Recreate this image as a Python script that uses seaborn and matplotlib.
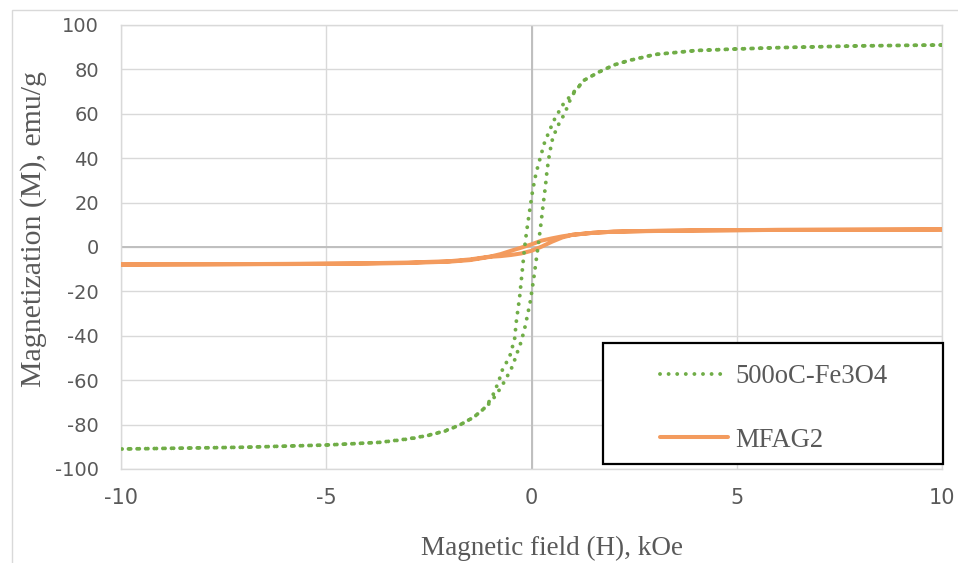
import matplotlib
matplotlib.use("Agg")
import matplotlib.pyplot as plt
from matplotlib.patches import Rectangle
import seaborn as sns
import pandas as pd

# ---- measured hysteresis loops (H in kOe, M in emu/g) ----
# 500oC-Fe3O4: descending branch (+10 -> -10 kOe)
fe3o4_desc_h = [10.0, 8.0, 6.0, 5.0, 4.0, 3.0, 2.57, 2.39, 2.01, 1.64, 1.29, 1.03,
                0.76, 0.56, 0.48, 0.32, 0.21, 0.11, 0.03, -0.03, -0.12, -0.17,
                -0.23, -0.29, -0.37, -0.41, -0.51, -0.60, -0.70, -0.76, -0.90,
                -1.10, -1.40, -1.75, -2.12, -2.51, -2.92, -3.31, -3.70, -5.0,
                -7.0, -10.0]
fe3o4_desc_m = [91.0, 90.6, 89.8, 89.2, 88.5, 86.7, 84.8, 84.1, 82.0, 78.8, 75.2, 69.8,
                64.0, 57.5, 54.2, 47.2, 40.0, 33.2, 25.7, 18.2, 6.9, -0.6,
                -11.6, -22.7, -33.6, -41.1, -48.2, -51.7, -54.8, -58.4, -65.3,
                -71.8, -76.6, -80.2, -82.9, -84.8, -86.3, -87.2, -88.0, -89.2,
                -90.2, -91.0]
# 500oC-Fe3O4: ascending branch (-10 -> +10 kOe)
fe3o4_asc_h = [-10.0, -7.0, -5.0, -3.7, -3.0, -2.5, -2.1, -1.75, -1.4, -1.10, -0.96,
               -0.73, -0.54, -0.45, -0.39, -0.25, -0.15, -0.03, 0.06, 0.17, 0.22,
               0.29, 0.34, 0.38, 0.44, 0.52, 0.68, 0.79, 0.87, 0.94, 1.05, 1.29,
               1.64, 2.01, 2.39, 3.0, 4.0, 5.0, 6.0, 8.0, 10.0]
fe3o4_asc_m = [-91.0, -90.2, -89.2, -88.0, -86.4, -84.8, -82.9, -80.2, -76.6, -71.9, -69.1,
               -62.9, -56.5, -53.2, -49.7, -42.6, -35.4, -24.6, -13.4, 1.7, 8.9,
               20.0, 27.5, 34.7, 42.2, 49.4, 56.0, 59.5, 62.9, 66.2, 70.0, 75.2,
               78.8, 82.0, 84.1, 86.7, 88.5, 89.2, 89.8, 90.6, 91.0]

# MFAG2: descending branch (+10 -> -10 kOe)
mfag2_desc_h = [10.0, 8.0, 6.0, 4.0, 3.0, 2.0, 1.5, 1.0, 0.75, 0.5, 0.25, 0.0,
                -0.25, -0.5, -0.75, -1.0, -1.5, -2.0, -3.0, -4.0, -6.0, -8.0, -10.0]
mfag2_desc_m = [7.9, 7.8, 7.7, 7.5, 7.3, 6.9, 6.4, 5.5, 4.8, 3.9, 2.9, 1.2,
                -0.3, -1.7, -3.2, -4.3, -5.6, -6.4, -7.0, -7.3, -7.6, -7.8, -7.9]
# MFAG2: ascending branch (-10 -> +10 kOe)
mfag2_asc_h = [-10.0, -8.0, -6.0, -4.0, -3.0, -2.0, -1.5, -1.0, -0.75, -0.5, -0.25, 0.0,
               0.25, 0.5, 0.75, 1.0, 1.5, 2.0, 3.0, 4.0, 6.0, 8.0, 10.0]
mfag2_asc_m = [-7.9, -7.8, -7.7, -7.5, -7.2, -6.6, -5.9, -4.4, -4.1, -3.6, -2.9, -1.7,
               0.2, 2.4, 4.3, 5.5, 6.4, 6.9, 7.2, 7.4, 7.7, 7.8, 7.9]

series_names = ["500oC-Fe3O4", "MFAG2"]
x_ticks = [-10, -5, 0, 5, 10]
y_ticks = [-100, -80, -60, -40, -20, 0, 20, 40, 60, 80, 100]
x_title = "Magnetic field (H), kOe"
y_title = "Magnetization (M), emu/g"

GREEN = "#70AD47"
ORANGE = "#F39B5E"
TEXT = "#595959"
GRID = "#D9D9D9"
AXISLINE = "#BFBFBF"


def loop_frame(h_down, m_down, h_up, m_up, name):
    return pd.DataFrame({"H": list(h_down) + list(h_up),
                         "M": list(m_down) + list(m_up),
                         "sample": name})


fe3o4 = loop_frame(fe3o4_desc_h, fe3o4_desc_m, fe3o4_asc_h, fe3o4_asc_m, series_names[0])
mfag2 = loop_frame(mfag2_desc_h, mfag2_desc_m, mfag2_asc_h, mfag2_asc_m, series_names[1])

sns.set_style("white")
plt.rcParams["font.family"] = ["DejaVu Sans"]

fig = plt.figure(figsize=(9.58, 5.63), dpi=100)
fig.patch.set_facecolor("white")

# light chart-area border (left and top edges visible)
fig.patches.append(Rectangle((12 / 958, -0.2), 1.2, 1.2 - 10 / 563,
                             transform=fig.transFigure, fill=False,
                             edgecolor=GRID, lw=1.0, zorder=0))

ax = fig.add_axes([121 / 958, 1 - 469 / 563, (942 - 121) / 958, (469 - 25) / 563])
ax.set_facecolor("white")

sns.lineplot(data=mfag2, x="H", y="M", sort=False, estimator=None, ax=ax,
             color=ORANGE, lw=2.9, label=series_names[1], zorder=3,
             solid_capstyle="round", solid_joinstyle="round")
sns.lineplot(data=fe3o4, x="H", y="M", sort=False, estimator=None, ax=ax,
             color=GREEN, lw=2.8, label=series_names[0], zorder=4,
             linestyle=(0, (0.01, 2.2)), dash_capstyle="round")

ax.set_xlim(-10, 10)
ax.set_ylim(-100, 100)
ax.set_xticks(x_ticks)
ax.set_xticklabels([str(v) for v in x_ticks],
                   fontdict={"family": ["Liberation Sans Narrow", "DejaVu Sans"], "size": 15})
ax.set_yticks(y_ticks)
ax.set_yticklabels([str(v) for v in y_ticks],
                   fontdict={"family": ["DejaVu Sans"], "size": 14})
ax.tick_params(axis="both", length=0, colors=TEXT)
ax.tick_params(axis="y", pad=16)
ax.tick_params(axis="x", pad=14)

ax.grid(True, color=GRID, lw=1.0)
ax.set_axisbelow(True)
for sp in ax.spines.values():
    sp.set_color(GRID)
    sp.set_linewidth(1.0)
ax.axvline(0, color=AXISLINE, lw=1.4, zorder=1.5)
ax.axhline(0, color=AXISLINE, lw=1.4, zorder=1.5)

ax.set_xlabel(x_title, family="Liberation Serif", size=19.5, color=TEXT)
ax.set_ylabel(y_title, family="Liberation Serif", size=21.5, color=TEXT)
ax.xaxis.set_label_coords((552 - 121) / 821, (469 - 548) / 444)
ax.yaxis.set_label_coords((34 - 121) / 821, (469 - 229) / 444)
ax.xaxis.label.set_va("center")
ax.yaxis.label.set_va("center")

# legend box
ax.add_patch(Rectangle(((603 - 121) / 821, (469 - 464) / 444),
                       (943 - 603) / 821, (464 - 343) / 444,
                       transform=ax.transAxes, facecolor="white",
                       edgecolor="black", lw=1.6, zorder=5, clip_on=False))
handles, labels = ax.get_legend_handles_labels()
order = [labels.index(n) for n in series_names]
leg = ax.legend([handles[i] for i in order], [labels[i] for i in order],
                loc="upper left",
                bbox_to_anchor=((660 - 121) / 821, (469 - 364) / 444),
                frameon=False, borderpad=0, borderaxespad=0,
                handlelength=2.55, handletextpad=0.28, labelspacing=1.45,
                prop={"family": "Liberation Serif", "size": 19.2})
leg.set_zorder(6)
for t in leg.get_texts():
    t.set_color(TEXT)

fig.savefig("out.png", dpi=100, facecolor="white")
